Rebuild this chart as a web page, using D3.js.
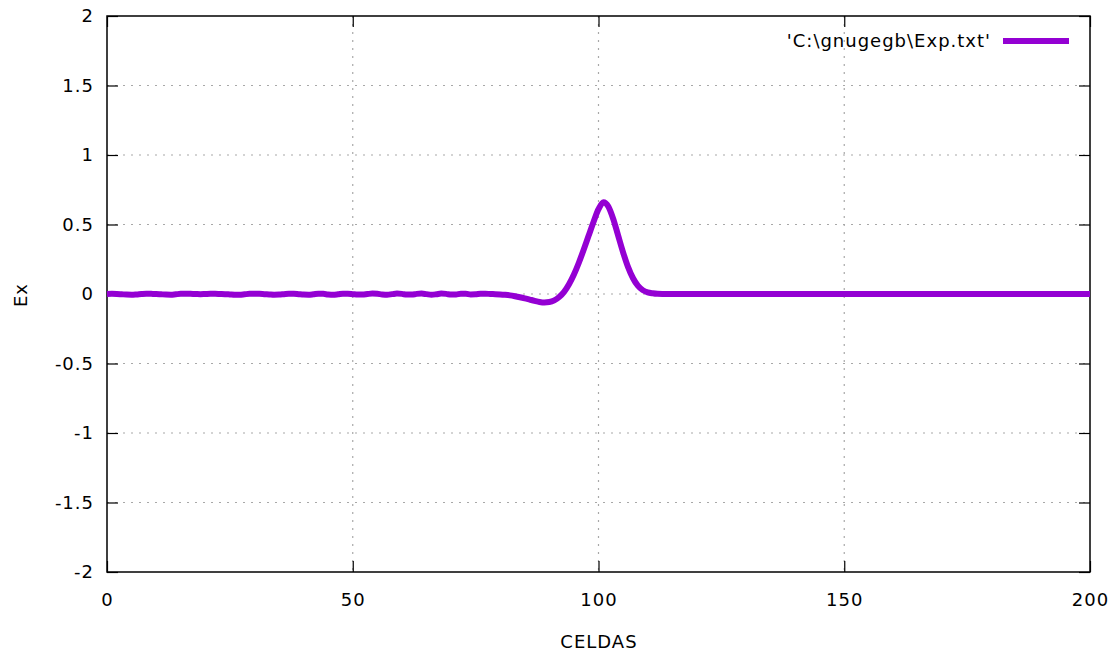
<!DOCTYPE html>
<html><head><meta charset="utf-8">
<script src="https://cdn.jsdelivr.net/npm/d3@7"></script>
<style>body{margin:0;background:#fff}text{font-family:"DejaVu Sans",sans-serif;letter-spacing:1px;}</style>
</head><body>
<svg id="c" width="1119" height="656"></svg>
<script>
const xTicks = [0, 50, 100, 150, 200];
const yTicks = [-2, -1.5, -1, -0.5, 0, 0.5, 1, 1.5, 2];
const xLabel = "CELDAS";
const yLabel = "Ex";
const seriesName = "'C:\\gnugegb\\Exp.txt'";
// Ex values for cells 0..200
const exValues = [
  0.000, 0.001, 0.000, -0.002, -0.004, -0.005, -0.003, 0.000, 0.002, 0.001,
  0.000, -0.002, -0.004, -0.005, -0.002, 0.001, 0.002, 0.001, 0.000, -0.001,
  0.000, 0.001, 0.001, 0.000, -0.001, -0.003, -0.005, -0.005, -0.002, 0.001,
  0.002, 0.001, -0.001, -0.003, -0.005, -0.004, -0.001, 0.002, 0.002, -0.001,
  -0.004, -0.005, -0.002, 0.002, 0.001, -0.003, -0.005, -0.002, 0.002, 0.002,
  -0.001, -0.004, -0.004, 0.000, 0.003, 0.001, -0.003, -0.005, -0.001, 0.003,
  0.001, -0.004, -0.004, 0.001, 0.003, -0.001, -0.005, -0.002, 0.003, 0.001,
  -0.004, -0.003, 0.002, 0.002, -0.003, -0.002, 0.002, 0.002, 0.000, -0.001,
  -0.003, -0.006, -0.010, -0.016, -0.023, -0.031, -0.040, -0.049, -0.057, -0.061,
  -0.058, -0.046, -0.022, 0.015, 0.070, 0.140, 0.225, 0.320, 0.420, 0.520,
  0.610, 0.660, 0.630, 0.540, 0.420, 0.300, 0.195, 0.115, 0.060, 0.028,
  0.012, 0.005, 0.001, 0.000, 0.000, 0.000, 0.000, 0.000, 0.000, 0.000,
  0.000, 0.000, 0.000, 0.000, 0.000, 0.000, 0.000, 0.000, 0.000, 0.000,
  0.000, 0.000, 0.000, 0.000, 0.000, 0.000, 0.000, 0.000, 0.000, 0.000,
  0.000, 0.000, 0.000, 0.000, 0.000, 0.000, 0.000, 0.000, 0.000, 0.000,
  0.000, 0.000, 0.000, 0.000, 0.000, 0.000, 0.000, 0.000, 0.000, 0.000,
  0.000, 0.000, 0.000, 0.000, 0.000, 0.000, 0.000, 0.000, 0.000, 0.000,
  0.000, 0.000, 0.000, 0.000, 0.000, 0.000, 0.000, 0.000, 0.000, 0.000,
  0.000, 0.000, 0.000, 0.000, 0.000, 0.000, 0.000, 0.000, 0.000, 0.000,
  0.000, 0.000, 0.000, 0.000, 0.000, 0.000, 0.000, 0.000, 0.000, 0.000,
  0.000
];
const cells = d3.range(exValues.length);

const L = 107, R = 1090, T = 16, B = 572;
const svg = d3.select("#c");
const x = d3.scaleLinear().domain([0, 200]).range([L, R]);
const y = d3.scaleLinear().domain([-2, 2]).range([B, T]);
const fs = 18, tl = 11;
const fmtY = v => String(v); // plain hyphen minus like the original

// grid
const grid = svg.append("g").attr("stroke", "#a8a8a8").attr("stroke-width", 1.2).attr("stroke-dasharray", "2,6");
xTicks.filter(v => v > 0 && v < 200).forEach(v => {
  grid.append("line").attr("x1", x(v)).attr("x2", x(v)).attr("y1", T).attr("y2", B);
});
yTicks.filter(v => v > -2 && v < 2).forEach(v => {
  grid.append("line").attr("x1", L).attr("x2", R).attr("y1", y(v)).attr("y2", y(v));
});

// axes with inward ticks (mirrored)
const axL = d3.axisLeft(y).tickValues(yTicks).tickSize(-tl).tickPadding(13).tickFormat(fmtY);
const axR = d3.axisRight(y).tickValues(yTicks).tickSize(-tl).tickFormat("");
const axB = d3.axisBottom(x).tickValues(xTicks).tickSize(-tl).tickPadding(21).tickFormat(d3.format("d"));
const axT = d3.axisTop(x).tickValues(xTicks).tickSize(-tl).tickFormat("");
function style(g) {
  g.select(".domain").remove();
  g.selectAll(".tick line").attr("stroke", "#000").attr("stroke-width", 1.2);
  g.selectAll(".tick text").attr("fill", "#000").style("font-size", fs + "px").style("font-family", '"DejaVu Sans",sans-serif');
}
svg.append("g").attr("transform", `translate(${L},0)`).call(axL).call(style);
svg.append("g").attr("transform", `translate(${R},0)`).call(axR).call(style);
svg.append("g").attr("transform", `translate(0,${B})`).call(axB).call(style);
svg.append("g").attr("transform", `translate(0,${T})`).call(axT).call(style);

// border
svg.append("rect").attr("x", L).attr("y", T).attr("width", R - L).attr("height", B - T)
  .attr("fill", "none").attr("stroke", "#000").attr("stroke-width", 1.5);

// line
const line = d3.line().x((d, i) => x(cells[i])).y(d => y(d)).curve(d3.curveMonotoneX);
svg.append("path").datum(exValues).attr("d", line).attr("fill", "none")
  .attr("stroke", "#9400d3").attr("stroke-width", 6).attr("stroke-linejoin", "round");

// legend
svg.append("text").attr("x", 991).attr("y", 41).attr("dy", "0.35em").attr("text-anchor", "end")
  .style("font-size", fs + "px").text(seriesName);
svg.append("line").attr("x1", 1003).attr("x2", 1069).attr("y1", 41).attr("y2", 41)
  .attr("stroke", "#9400d3").attr("stroke-width", 6);

// axis labels
svg.append("text").attr("x", 599).attr("y", 648).attr("text-anchor", "middle")
  .style("font-size", fs + "px").text(xLabel);
svg.append("text").attr("transform", `translate(27,${(T + B) / 2 + 1}) rotate(-90)`).attr("text-anchor", "middle")
  .style("font-size", fs + "px").text(yLabel);
</script>
</body></html>
